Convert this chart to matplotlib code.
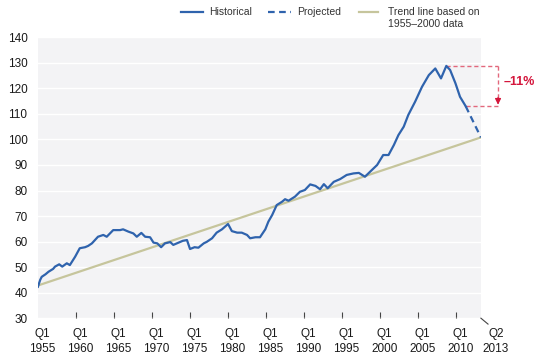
import numpy as np
import matplotlib
matplotlib.use("Agg")
import matplotlib.pyplot as plt
from matplotlib.lines import Line2D
from matplotlib.transforms import ScaledTranslation

# historical index (decimal years)
hist_years = [1955.0, 1955.3, 1955.5, 1956.0, 1956.4, 1957.0, 1957.25, 1957.8, 1958.2, 1958.8,
              1959.2, 1959.9, 1960.5, 1961.2, 1961.6, 1962.1, 1962.9, 1963.6, 1964.05, 1964.9,
              1965.8, 1966.2, 1966.9, 1967.55, 1968.0, 1968.6, 1969.1, 1969.75, 1970.2, 1970.7,
              1971.2, 1971.7, 1972.4, 1972.8, 1973.5, 1974.05, 1974.6, 1975.0, 1975.6, 1976.1,
              1976.8, 1977.2, 1977.9, 1978.5, 1979.2, 1980.0, 1980.5, 1981.2, 1981.8, 1982.5,
              1982.9, 1983.6, 1984.2, 1984.9, 1985.3, 1985.8, 1986.4, 1987.1, 1987.5, 1987.95,
              1988.8, 1989.45, 1990.1, 1990.8, 1991.5, 1992.1, 1992.6, 1993.1, 1993.9, 1994.75,
              1995.6, 1996.5, 1997.2, 1998.0, 1998.9, 1999.6, 2000.4, 2001.1, 2001.8, 2002.4,
              2003.1, 2003.7, 2004.6, 2005.5, 2006.4, 2007.25, 2008.0, 2008.7, 2009.2, 2009.9,
              2010.5, 2011.25]
hist_values = [42.3, 45.0, 46.2, 47.2, 48.2, 49.3, 50.2, 51.1, 50.2, 51.5,
               50.8, 54.1, 57.4, 57.8, 58.3, 59.3, 61.9, 62.6, 61.9, 64.5,
               64.5, 64.8, 63.9, 63.2, 61.9, 63.4, 61.9, 61.7, 59.6, 59.3,
               57.8, 59.3, 59.8, 58.7, 59.6, 60.3, 60.6, 57.1, 57.8, 57.6,
               59.3, 59.9, 61.3, 63.5, 64.8, 66.9, 64.1, 63.5, 63.5, 62.6,
               61.3, 61.7, 61.7, 64.8, 67.8, 70.4, 74.3, 75.6, 76.6, 76.0,
               77.6, 79.5, 80.2, 82.4, 81.8, 80.5, 82.5, 80.9, 83.4, 84.5,
               86.1, 86.7, 86.9, 85.4, 88.0, 90.0, 93.9, 93.9, 97.8, 101.7,
               105.0, 109.6, 114.8, 120.6, 125.2, 127.8, 123.9, 128.8, 127.2, 122.0,
               116.7, 113.0]

proj_years = [2011.25, 2013.25]
proj_values = [113.0, 100.8]

trend_years = [1955.0, 2013.25]
trend_values = [42.8, 100.8]

tick_years = [1955, 1960, 1965, 1970, 1975, 1980, 1985, 1990, 1995, 2000, 2005, 2010, 2013.25]
tick_labels = ["Q1\n1955", "Q1\n1960", "Q1\n1965", "Q1\n1970", "Q1\n1975", "Q1\n1980",
               "Q1\n1985", "Q1\n1990", "Q1\n1995", "Q1\n2000", "Q1\n2005", "Q1\n2010",
               "Q2\n2013"]
change_label = "\u201311%"

blue = "#2f63ad"
olive = "#c6c59c"
red = "#d4163c"
pink = "#e2687c"

plt.rcParams['font.family'] = ['Liberation Sans', 'DejaVu Sans']

fig = plt.figure(figsize=(5.4, 3.57), dpi=100)
ax = fig.add_axes([0.0702, 0.1087, 0.8204, 0.7868])
ax.set_facecolor("#f3f3f5")

ax.plot(trend_years, trend_values, color=olive, lw=1.6, zorder=2)
ax.plot(hist_years, hist_values, color=blue, lw=1.6, zorder=3)
ax.plot(proj_years, proj_values, color=blue, lw=1.6, ls=(0, (3, 2)), zorder=3)

ax.set_xlim(1955, 2013.25)
ax.set_ylim(30, 140)
ax.set_yticks(np.arange(30, 141, 10))
ax.grid(axis='y', color='white', lw=1.0)
ax.set_axisbelow(True)
for s in ax.spines.values():
    s.set_visible(False)

ax.tick_params(axis='y', length=0, pad=7.5, labelsize=8.5, labelcolor='#1a1a1a')
ax.set_xticks(tick_years)
ax.set_xticklabels(tick_labels, fontsize=8.5, color='#1a1a1a', linespacing=1.38)
ax.tick_params(axis='x', direction='in', length=4.3, width=0.8, color='#444444', pad=7)
ticks = ax.xaxis.get_major_ticks()
ticks[0].tick1line.set_visible(False)
ticks[-1].tick1line.set_visible(False)
for i, lab in enumerate(ax.get_xticklabels()):
    dx = 15 / 100 if i == len(tick_labels) - 1 else 4 / 100
    lab.set_transform(lab.get_transform() + ScaledTranslation(dx, 0, fig.dpi_scale_trans))

# diagonal mark at the right end of the x axis
ax.add_line(Line2D([1.0, 1.016], [0.0, -0.021], transform=ax.transAxes,
                   color='#444444', lw=0.8, clip_on=False))

# peak-to-now annotation
peak_i = int(np.argmax(hist_values))
peak_x, peak_y = hist_years[peak_i], hist_values[peak_i]
last_x, last_y = hist_years[-1], hist_values[-1]
arrow_x = 2015.5
ax.plot([peak_x, arrow_x], [peak_y, peak_y], color=pink, lw=1, ls=(0, (3, 2)), clip_on=False)
ax.plot([last_x, arrow_x], [last_y, last_y], color=pink, lw=1, ls=(0, (3, 2)), clip_on=False)
ax.plot([arrow_x, arrow_x], [peak_y, last_y + 2], color=pink, lw=1, ls=(0, (3, 2)), clip_on=False)
ax.annotate('', xy=(arrow_x, last_y + 0.6), xytext=(arrow_x, last_y + 3.5),
            arrowprops=dict(arrowstyle='-|>', color=red, lw=0.8, mutation_scale=9,
                            shrinkA=0, shrinkB=0), annotation_clip=False)
ax.text(arrow_x + 0.7, (peak_y + last_y) / 2 + 1.5, change_label, color=red,
        fontsize=9, fontweight='bold', va='center', ha='left', clip_on=False)

# legend drawn by hand so the two-line label lines up like the original
W, H = 540.0, 357.0
ly1 = 1 - 11.6 / H
ly2 = 1 - 24.0 / H
fig.add_artist(Line2D([181 / W, 203 / W], [ly1, ly1], color=blue, lw=1.6))
fig.add_artist(Line2D([268 / W, 291 / W], [ly1, ly1], color=blue, lw=1.6, ls=(0, (3, 2))))
fig.add_artist(Line2D([359 / W, 378 / W], [ly1, ly1], color=olive, lw=1.6))
fig.text(209 / W, ly1, "Historical", fontsize=7.5, color='#333333', va='center')
fig.text(297 / W, ly1, "Projected", fontsize=7.5, color='#333333', va='center')
fig.text(388 / W, ly1, "Trend line based on", fontsize=7.5, color='#333333', va='center')
fig.text(388 / W, ly2, "1955\u20132000 data", fontsize=7.5, color='#333333', va='center')

fig.savefig("out.png", dpi=100)
